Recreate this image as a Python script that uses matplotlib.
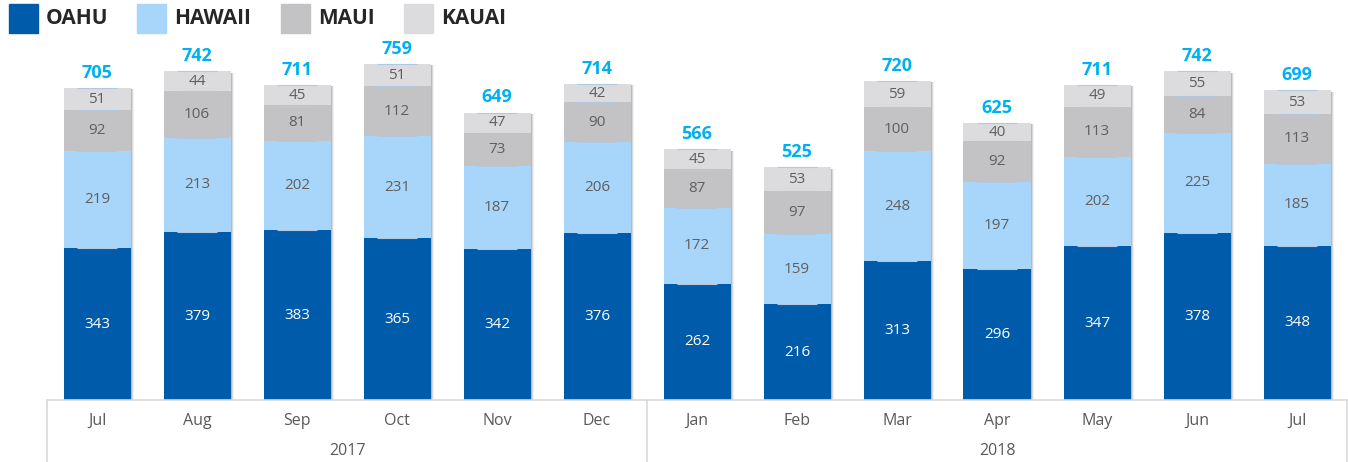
import numpy as np
import matplotlib.pyplot as plt
from matplotlib.patches import Rectangle

# =============================
#  Data
# =============================
months = ["Jul", "Aug", "Sep", "Oct", "Nov", "Dec",
          "Jan", "Feb", "Mar", "Apr", "May", "Jun", "Jul"]
years = ["2017", "2018"]
year_spans = [(0, 5), (6, 12)]   # first and last month index of each year

oahu = [343, 379, 383, 365, 342, 376, 262, 216, 313, 296, 347, 378, 348]
hawaii = [219, 213, 202, 231, 187, 206, 172, 159, 248, 197, 202, 225, 185]
maui = [92, 106, 81, 112, 73, 90, 87, 97, 100, 92, 113, 84, 113]
kauai = [51, 44, 45, 51, 47, 42, 45, 53, 59, 40, 49, 55, 53]

series_names = ["OAHU", "HAWAII", "MAUI", "KAUAI"]
series_vals = [oahu, hawaii, maui, kauai]

# =============================
#  Style
# =============================
plt.rcParams["font.family"] = ["Open Sans", "DejaVu Sans"]

colors = ["#005BAA", "#A8D6FA", "#C3C3C5", "#DCDCDE"]
text_colors = ["white", "#5F5F5F", "#5F5F5F", "#5F5F5F"]
total_color = "#00B0F0"
axis_line = "#D9D9D9"

fig = plt.figure(figsize=(13.48, 4.62), dpi=100)
ax = fig.add_axes([47 / 1348, 62 / 462, 1300 / 1348, 400 / 462])

x = np.arange(len(months))
width = 0.67
totals = np.sum(series_vals, axis=0)

# soft shadow on the right of each stack
for off, a in [(0.012, 0.35), (0.024, 0.2), (0.036, 0.1)]:
    ax.bar(x + off, totals, width=width, bottom=-3, color="#7F7F7F", alpha=a,
           linewidth=0, zorder=1)

bottom = np.zeros(len(months))
for name, vals, col, tcol in zip(series_names, series_vals, colors, text_colors):
    vals = np.array(vals)
    ax.bar(x, vals, width=width, bottom=bottom, color=col, linewidth=0, zorder=2)
    # thin light separator line at the top of each segment
    ax.hlines(bottom + vals, x - width * 0.3, x + width * 0.3,
              color="#B4C7E0", linewidth=0.8, zorder=3)
    for xi, b, v in zip(x, bottom, vals):
        ax.text(xi, b + v / 2, str(v), ha="center", va="center",
                fontsize=11, color=tcol, zorder=4)
    bottom += vals

for xi, t in zip(x, totals):
    ax.text(xi, t + 34, str(t), ha="center", va="center", fontsize=13,
            fontweight="bold", color=total_color, zorder=4)

ax.set_xlim(-0.5, len(months) - 0.5)
ax.set_ylim(0, 903)
ax.axis("off")

# =============================
#  Category axis (months + years)
# =============================
ax.plot([-0.5, len(months) - 0.5], [0, 0], color=axis_line, linewidth=1.2,
        clip_on=False, zorder=5)
for xi, m in zip(x, months):
    ax.annotate(m, (xi, 0), xytext=(0, -21), textcoords="offset pixels",
                ha="center", va="center", fontsize=11.5, color="#595959",
                annotation_clip=False)
for yr, (a, b) in zip(years, year_spans):
    ax.annotate(yr, ((a + b) / 2, 0), xytext=(0, -51), textcoords="offset pixels",
                ha="center", va="center", fontsize=11.5, color="#595959",
                annotation_clip=False)
bounds = [year_spans[0][0] - 0.5] + [b + 0.5 for (_, b) in year_spans]
for bx in bounds:
    ax.annotate("", xy=(bx, 0), xytext=(bx, -62), xycoords="data",
                textcoords=("data", "offset pixels"), annotation_clip=False,
                arrowprops=dict(arrowstyle="-", color=axis_line, linewidth=1.2,
                                shrinkA=0, shrinkB=0))

# =============================
#  Legend (top left)
# =============================
leg_x = [9, 137, 281, 404]
for lx, name, col in zip(leg_x, series_names, colors):
    fig.patches.append(Rectangle((lx / 1348, 1 - 33 / 462), 29 / 1348, 29 / 462,
                                 transform=fig.transFigure, color=col,
                                 figure=fig))
    fig.text((lx + 37) / 1348, 1 - 19 / 462, name, ha="left", va="center",
             fontsize=15, fontweight="bold", color="#262626")

fig.savefig("out.png", dpi=100)
